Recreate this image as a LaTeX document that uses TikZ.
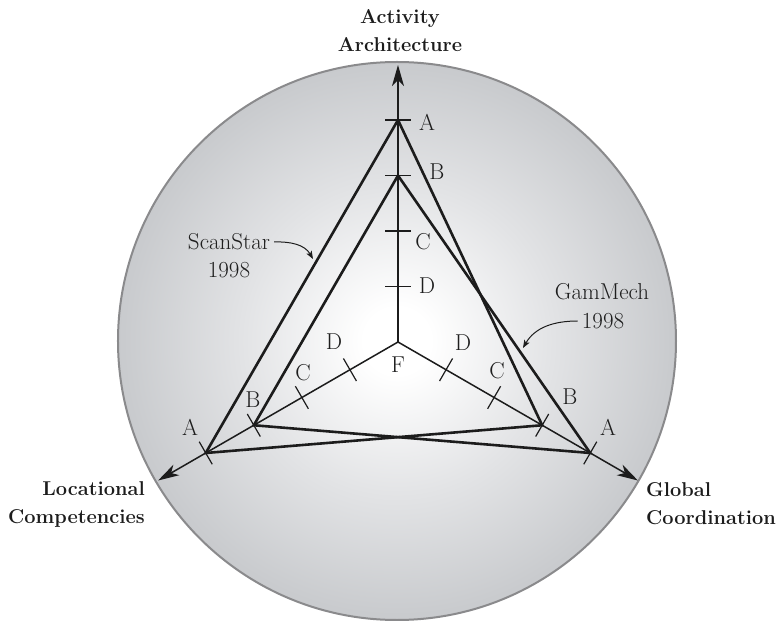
\documentclass[tikz,border=0pt]{standalone}
\usepackage{fontspec}
\usetikzlibrary{arrows.meta,calc}

\definecolor{ink}{RGB}{28,28,28}
\definecolor{labelink}{RGB}{30,30,30}
\definecolor{rimgrey}{RGB}{138,138,140}
\definecolor{discedge}{RGB}{200,202,205}
\definecolor{discmid}{RGB}{226,227,229}

% radial fill of the disc: white core fading to grey at the rim (rim = 25bp)
\pgfdeclareradialshading{discshade}{\pgfpoint{0bp}{0bp}}{%
  color(0bp)=(white); color(3bp)=(white); color(14bp)=(discmid);
  color(25bp)=(discedge); color(50bp)=(discedge)}

\tikzset{
  axisline/.style={ink, line width=1.5pt,
    -{Stealth[length=21pt,width=12pt,inset=6pt]}},
  axistick/.style={ink, line width=1.2pt},
  profile/.style={ink, line width=2.6pt, line join=miter},
  notearrow/.style={ink, line width=1pt,
    -{Stealth[length=8pt,width=6pt,inset=2pt]}},
  lbl/.style={font=\fontsize{23}{27}\selectfont, text=labelink, inner sep=0pt},
  notelbl/.style={lbl, inner sep=4pt},
  axlbl/.style={font=\bfseries\fontsize{20}{28}\selectfont, text=ink, inner sep=0pt},
}

\begin{document}
\begin{tikzpicture}[x=1pt,y=1pt]
\useasboundingbox (-398,-279) rectangle (384,342);

% shaded disc
\shade[shading=discshade] (-1,1) circle[radius=279];
\draw[rimgrey, line width=2pt] (-1,1) circle[radius=279];

% origin and axis end points
\coordinate (F) at (0,0);
\coordinate (tipT) at (90:277);
\coordinate (tipL) at (210:277);
\coordinate (tipR) at (330:277);

% scale points A (outer) .. D (inner) on each axis
\foreach \lv/\r in {A/222, B/166.5, C/111, D/55.5}{
  \coordinate (t\lv) at (90:\r);
  \coordinate (l\lv) at (210:\r);
  \coordinate (r\lv) at (330:\r);
}

% axes
\draw[axisline] (F) -- (tipT);
\draw[axisline] (F) -- (tipL);
\draw[axisline] (F) -- (tipR);

% tick marks across the axes
\foreach \p in {tA,tB,tC,tD,lA,lB,lC,lD,rA,rB,rC,rD}{
  \draw[axistick] ($(\p)!13pt!90:(F)$) -- ($(\p)!13pt!-90:(F)$);
}

% company profiles
\draw[profile] (tA) -- (lA) -- (rB) -- cycle;
\draw[profile] (tB) -- (lB) -- (rA) -- cycle;

% scale letters
\node[lbl] (labtA) at (29,220) {A};
\node[lbl] (labtB) at (39,170) {B};
\node[lbl] (labtC) at (25,100) {C};
\node[lbl] (labtD) at (29,56) {D};
\node[lbl] (lablA) at (-208,-85) {A};
\node[lbl] (lablB) at (-145,-58) {B};
\node[lbl] (lablC) at (-95,-31) {C};
\node[lbl] (lablD) at (-64,0) {D};
\node[lbl] (labrA) at (210,-85) {A};
\node[lbl] (labrB) at (172,-55) {B};
\node[lbl] (labrC) at (99,-29) {C};
\node[lbl] (labrD) at (65,-1) {D};
\node[lbl] (labF) at (0,-23) {F};

% axis titles
\node[axlbl, align=center] (titleT) at (2,311) {Activity\\Architecture};
\node[axlbl, align=right, anchor=east] (titleL) at (-253,-162) {Locational\\Competencies};
\node[axlbl, align=left, anchor=west] (titleR) at (248,-162) {Global\\Coordination};

% profile names with pointers
\node[notelbl] (scan) at (-169,100) {ScanStar};
\node[notelbl] (scanyr) at (-169,72) {1998};
\coordinate (scanTip) at (-85,83);
\draw[notearrow] (scan.east) to[out=2,in=120] (scanTip);

\node[notelbl] (gam) at (204,50) {GamMech};
\node[notelbl] (gamyr) at (205,21) {1998};
\coordinate (gamTip) at (125,-6);
\draw[notearrow] (gamyr.west) to[out=180,in=60] (gamTip);
\end{tikzpicture}
\end{document}
